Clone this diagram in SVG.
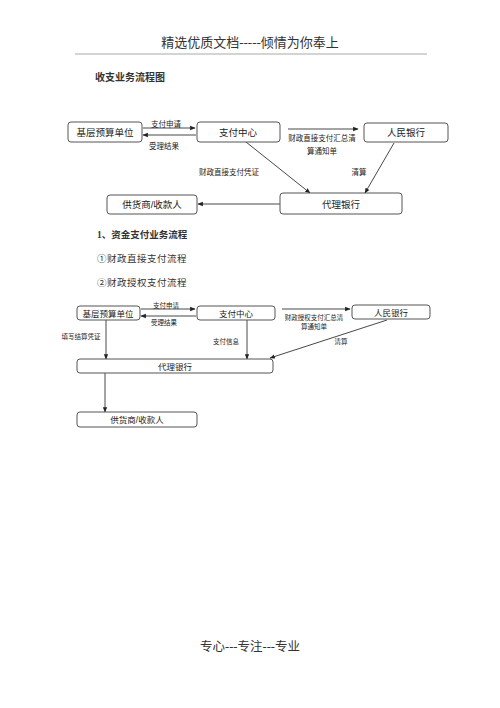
<svg xmlns="http://www.w3.org/2000/svg" width="500" height="708" viewBox="0 0 500 708">
<defs>
<style>
.box{fill:#fff;stroke:#555;stroke-width:1}
.t{font-family:"Liberation Sans","Noto Sans CJK SC",sans-serif;fill:#222;text-anchor:middle}
.s{font-family:"Liberation Serif","Noto Sans CJK SC",serif;fill:#333}
.ln{stroke:#333;stroke-width:0.9;fill:none}
</style>
<marker id="ah" viewBox="0 0 10 10" refX="9" refY="5" markerWidth="6" markerHeight="6" orient="auto-start-reverse"><path d="M0,1 L10,5 L0,9 z" fill="#222"/></marker>
</defs>
<rect width="500" height="708" fill="#fff"/>
<text class="s" x="250" y="47" font-size="13" text-anchor="middle" fill="#555">精选优质文档-----倾情为你奉上</text>
<line x1="75" y1="54" x2="427" y2="54" stroke="#aaa" stroke-width="1.2"/>
<text class="s" x="95" y="81" font-size="10" font-weight="bold">收支业务流程图</text>
<text class="s" x="97" y="238" font-size="9.5" font-weight="bold">1、资金支付业务流程</text>
<text class="s" x="97" y="262" font-size="9.5" letter-spacing="0.5" fill="#555">①财政直接支付流程</text>
<text class="s" x="97" y="286" font-size="9.5" letter-spacing="0.5" fill="#555">②财政授权支付流程</text>
<text class="s" x="250" y="651" font-size="12.5" text-anchor="middle" fill="#555">专心---专注---专业</text>

<g id="connectors1">
<line class="ln" x1="143" y1="128" x2="195" y2="128" marker-end="url(#ah)"/>
<line class="ln" x1="196" y1="135" x2="143" y2="135" marker-end="url(#ah)"/>
<line class="ln" x1="288" y1="129" x2="358" y2="129" marker-end="url(#ah)"/>
<line class="ln" x1="246" y1="142" x2="310" y2="193" marker-end="url(#ah)"/>
<line class="ln" x1="394" y1="143" x2="365" y2="193" marker-end="url(#ah)"/>
<line class="ln" x1="280" y1="204" x2="198" y2="204" marker-end="url(#ah)"/>
<text class="t" x="166" y="127" font-size="7.5">支付申请</text>
<text class="t" x="164" y="149" font-size="7.5">受理结果</text>
<text class="t" x="322" y="141" font-size="7.5">财政直接支付汇总清</text>
<text class="t" x="322" y="154" font-size="7.5">算通知单</text>
<text class="t" x="229" y="175" font-size="7.5">财政直接支付凭证</text>
<text class="t" x="359" y="175" font-size="7.5">清算</text>
</g>
<g id="jc1"><rect class="box" x="68" y="122" width="74" height="20" rx="3"/><text class="t" x="105" y="136" font-size="9.5">基层预算单位</text></g>
<g id="zf1"><rect class="box" x="197" y="122" width="83" height="20" rx="3"/><text class="t" x="238" y="136" font-size="9.5">支付中心</text></g>
<g id="rm1"><rect class="box" x="364" y="123" width="84" height="19" rx="3"/><text class="t" x="406" y="136" font-size="9.5">人民银行</text></g>
<g id="dl1"><rect class="box" x="280" y="193" width="122" height="21" rx="3"/><text class="t" x="341" y="208" font-size="9.5">代理银行</text></g>
<g id="gh1"><rect class="box" x="107" y="195" width="90" height="19" rx="3"/><text class="t" x="152" y="208" font-size="9.5">供货商/收款人</text></g>

<g id="connectors2">
<line class="ln" x1="141" y1="309" x2="195" y2="309" marker-end="url(#ah)"/>
<line class="ln" x1="196" y1="316" x2="141" y2="316" marker-end="url(#ah)"/>
<line class="ln" x1="282" y1="309" x2="350" y2="309" marker-end="url(#ah)"/>
<line class="ln" x1="106" y1="320" x2="106" y2="359" marker-end="url(#ah)"/>
<line class="ln" x1="247" y1="320" x2="247" y2="359" marker-end="url(#ah)"/>
<line class="ln" x1="387" y1="320" x2="270" y2="358" marker-end="url(#ah)"/>
<line class="ln" x1="105" y1="373" x2="105" y2="412" marker-end="url(#ah)"/>
<text class="t" x="166" y="308" font-size="6.5">支付申请</text>
<text class="t" x="164" y="325" font-size="6.5">受理结果</text>
<text class="t" x="314" y="320" font-size="6.5">财政授权支付汇总清</text>
<text class="t" x="314" y="329" font-size="6.5">算通知单</text>
<text class="t" x="81" y="339" font-size="6.5">填写结算凭证</text>
<text class="t" x="226" y="344" font-size="6.5">支付信息</text>
<text class="t" x="341" y="344" font-size="6.5">清算</text>
</g>
<g id="jc2"><rect class="box" x="77" y="306" width="63" height="14" rx="3"/><text class="t" x="108" y="316.5" font-size="8.5" fill="#444">基层预算单位</text></g>
<g id="zf2"><rect class="box" x="197" y="306" width="78" height="14" rx="3"/><text class="t" x="236" y="316.5" font-size="8.5" fill="#444">支付中心</text></g>
<g id="rm2"><rect class="box" x="352" y="305" width="78" height="14" rx="3"/><text class="t" x="391" y="315.5" font-size="8.5" fill="#444">人民银行</text></g>
<g id="dl2"><rect class="box" x="77" y="359" width="196" height="14" rx="3"/><text class="t" x="175" y="369.5" font-size="8.5" fill="#444">代理银行</text></g>
<g id="gh2"><rect class="box" x="77" y="412" width="120" height="15" rx="3"/><text class="t" x="137" y="423" font-size="8.5" fill="#444">供货商/收款人</text></g>
</svg>
